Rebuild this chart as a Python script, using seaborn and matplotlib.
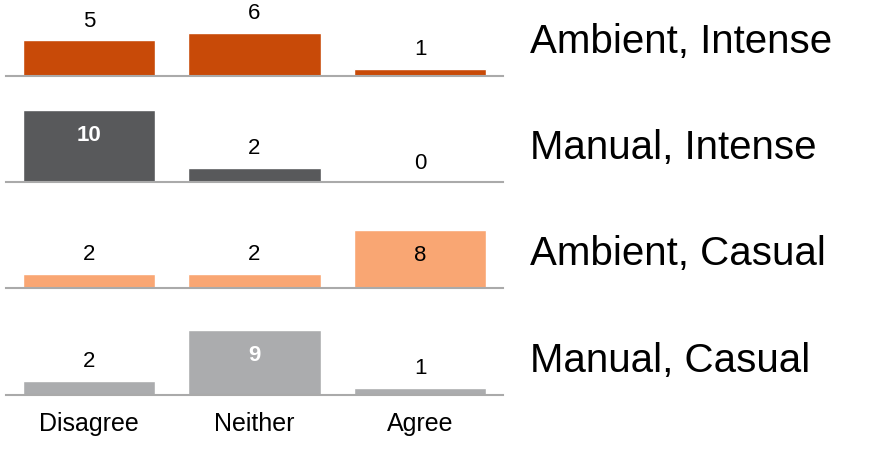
import matplotlib
matplotlib.use("Agg")
import matplotlib.pyplot as plt
import seaborn as sns
import pandas as pd

responses = ["Disagree", "Neither", "Agree"]
conditions = ["Ambient, Intense", "Manual, Intense", "Ambient, Casual", "Manual, Casual"]
ambient_intense = [5, 6, 1]
manual_intense = [10, 2, 0]
ambient_casual = [2, 2, 8]
manual_casual = [2, 9, 1]
colors = ["#C84A08", "#58595B", "#F9A673", "#ABACAE"]
inside_text = ["white", "white", "black", "white"]

sns.set_theme(style="white")
plt.rcParams["font.family"] = ["Liberation Sans", "DejaVu Sans"]

W, H = 869, 454
fig = plt.figure(figsize=(W / 100, H / 100), dpi=100)

series = [ambient_intense, manual_intense, ambient_casual, manual_casual]
baselines = [76, 182, 288, 395]
left, right = 6.25, 502.75
panel_h = 100
px_per_unit = 7.2

for k, (name, vals) in enumerate(zip(conditions, series)):
    df = pd.DataFrame({"response": responses, "count": vals})
    b = baselines[k]
    ax = fig.add_axes([left / W, (H - b) / H, (right - left) / W, panel_h / H])
    sns.barplot(data=df, x="response", y="count", color=colors[k],
                saturation=1, width=0.8, ax=ax)
    ax.set_xlim(-0.5, 2.5)
    ax.set_ylim(0, panel_h / px_per_unit)
    ax.set_xlabel("")
    ax.set_ylabel("")
    ax.set_yticks([])
    for s in ["top", "right", "left"]:
        ax.spines[s].set_visible(False)
    ax.spines["bottom"].set_color("#AAAAAA")
    ax.spines["bottom"].set_linewidth(1.5)
    ax.patch.set_alpha(0)
    ax.tick_params(axis="x", length=0, pad=12, labelsize=18, labelcolor="black")
    if k < 3:
        ax.set_xticklabels([])
    for i, v in enumerate(vals):
        if v >= 8:
            ax.annotate(str(v), xy=(i, v), xytext=(0, -18), textcoords="offset points",
                        ha="center", va="center", fontsize=16,
                        color=inside_text[k],
                        fontweight="bold" if inside_text[k] == "white" else "normal")
        else:
            ax.annotate(str(v), xy=(i, v), xytext=(0, 6), textcoords="offset points",
                        ha="center", va="bottom", fontsize=16, color="black")
    ax.text(1.055, 0.34, name, transform=ax.transAxes, ha="left", va="center",
            fontsize=29, color="black")

fig.savefig("out.png", dpi=100, facecolor="white")
